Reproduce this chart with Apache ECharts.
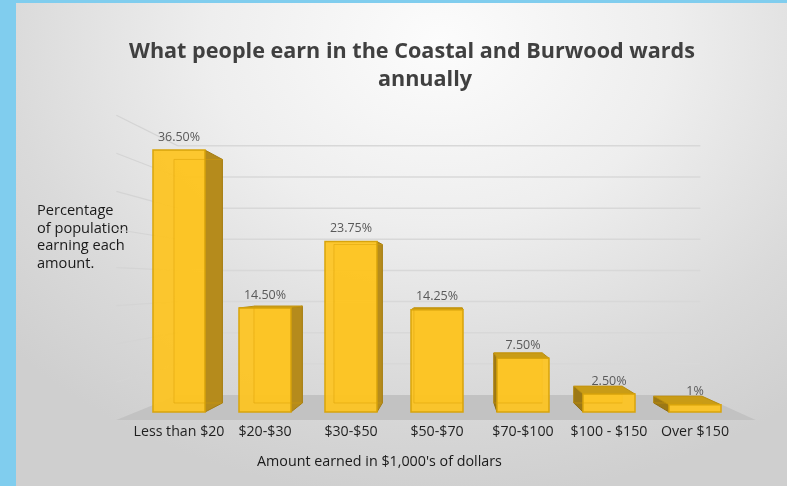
<!DOCTYPE html>
<html>
<head>
<meta charset="utf-8">
<script src="https://cdn.jsdelivr.net/npm/echarts@6/dist/echarts.min.js"></script>
<style>
html,body{margin:0;padding:0;width:787px;height:486px;overflow:hidden;background:#80CDEE;}
#bg{position:absolute;left:16px;top:3px;width:771px;height:483px;
  background:radial-gradient(ellipse 75% 95% at 55% 8%, #fcfcfc 0%, #eeeeee 40%, #dadada 75%, #cfcfcf 100%);}
#chart{position:absolute;left:0;top:0;width:787px;height:486px;}
</style>
</head>
<body>
<div id="bg"></div>
<div id="chart"></div>
<script>
// ---- data ----
const categories = ['Less than $20', '$20-$30', '$30-$50', '$50-$70', '$70-$100', '$100 - $150', 'Over $150'];
const values = [36.5, 14.5, 23.75, 14.25, 7.5, 2.5, 1];
const valueLabels = ['36.50%', '14.50%', '23.75%', '14.25%', '7.50%', '2.50%', '1%'];
const gridValues = [5, 10, 15, 20, 25, 30, 35, 40];
const titleLine1 = 'What people earn in the Coastal and Burwood wards';
const titleLine2 = 'annually';
const yAxisTitle = 'Percentage\nof population\nearning each\namount.';
const xAxisTitle = "Amount earned in $1,000's of dollars";

// ---- view / style ----
const FONT = 'Open Sans';
const VP = [453, 283];        // vanishing point
const Z_FLOOR_FRONT = -0.062;
const Z_FLOOR_BACK = 0.132;
const BAR_DEPTH = 0.07;
const BAR_RATIO = 0.605;

function P(x, y, z) { return [x + (VP[0] - x) * z, y + (VP[1] - y) * z]; }

function renderScene(params, api) {
  const cs = params.coordSys;
  const L = cs.x, R = cs.x + cs.width;
  const yb = api.coord([0, 0])[1];
  const children = [];
  gridValues.forEach(function (g) {
    const y = api.coord([0, g])[1];
    const a = P(L, y, Z_FLOOR_BACK), b = P(R, y, Z_FLOOR_BACK), f = P(L, y, Z_FLOOR_FRONT);
    children.push({ type: 'line', shape: { x1: a[0], y1: a[1], x2: b[0], y2: b[1] },
      style: { stroke: '#d8d8d8', lineWidth: 1.5 } });
    children.push({ type: 'line', shape: { x1: f[0], y1: f[1], x2: a[0], y2: a[1] },
      style: { stroke: '#d4d4d4', lineWidth: 1.2 } });
  });
  const p1 = P(L, yb, Z_FLOOR_FRONT), p2 = P(R, yb, Z_FLOOR_FRONT),
        p3 = P(R, yb, Z_FLOOR_BACK), p4 = P(L, yb, Z_FLOOR_BACK);
  children.push({ type: 'polygon', shape: { points: [p1, p2, p3, p4] },
    style: { fill: '#c2c2c2' } });
  return { type: 'group', children: children };
}

function renderBar(params, api) {
  const i = api.value(0), v = api.value(1);
  const top = api.coord([i, v]), base = api.coord([i, 0]);
  const bw = api.size([1, 0])[0] * BAR_RATIO;
  const x0 = top[0] - bw / 2, x1 = top[0] + bw / 2, yt = top[1], yb = base[1];
  const d = BAR_DEPTH;
  const ch = [];
  const edge = '#D8A40C';
  const b00 = P(x0, yt, d), b10 = P(x1, yt, d), b11 = P(x1, yb, d), b01 = P(x0, yb, d);
  ch.push({ type: 'polygon', shape: { points: [b00, b10, b11, b01] },
    style: { fill: 'rgba(250,190,20,0.5)', stroke: 'rgba(200,150,10,0.5)', lineWidth: 1 } });
  if (x1 < VP[0]) {
    ch.push({ type: 'polygon', shape: { points: [[x1, yt], P(x1, yt, d), P(x1, yb, d), [x1, yb]] },
      style: { fill: '#B58B1C', stroke: '#A47C12', lineWidth: 1 } });
  } else if (x0 > VP[0]) {
    ch.push({ type: 'polygon', shape: { points: [[x0, yt], P(x0, yt, d), P(x0, yb, d), [x0, yb]] },
      style: { fill: '#9C7816', stroke: '#8E6C10', lineWidth: 1 } });
  }
  if (yt > VP[1]) {
    ch.push({ type: 'polygon', shape: { points: [[x0, yt], [x1, yt], P(x1, yt, d), P(x0, yt, d)] },
      style: { fill: '#C99C16', stroke: '#B88D10', lineWidth: 1 } });
  }
  ch.push({ type: 'rect', shape: { x: x0, y: yt, width: x1 - x0, height: yb - yt },
    style: { fill: 'rgba(253,196,32,0.93)', stroke: edge, lineWidth: 1.5 } });
  ch.push({ type: 'polyline', shape: { points: [b01, b00, b10] },
    style: { fill: null, stroke: 'rgba(215,160,10,0.45)', lineWidth: 1 } });
  ch.push({ type: 'polyline', shape: { points: [b01, b11] },
    style: { fill: null, stroke: 'rgba(215,160,10,0.45)', lineWidth: 1 } });
  ch.push({ type: 'text', style: { text: valueLabels[i], x: top[0], y: yt - 13,
    textAlign: 'center', textVerticalAlign: 'middle', align: 'center', verticalAlign: 'middle',
    fill: '#595959', fontSize: 12.5, fontFamily: FONT } });
  return { type: 'group', children: ch };
}

const chart = echarts.init(document.getElementById('chart'), null, { renderer: 'canvas' });
chart.setOption({
  animation: false,
  backgroundColor: 'transparent',
  grid: { left: 136, right: 49, top: 125, bottom: 74 },
  xAxis: {
    type: 'category', data: categories,
    axisLine: { show: false }, axisTick: { show: false },
    axisLabel: { color: '#1f1f1f', fontSize: 14.2, fontFamily: FONT, margin: 13, interval: 0 }
  },
  yAxis: { type: 'value', min: 0, max: 40, interval: 5, show: false },
  graphic: [
    { type: 'text', x: 412, y: 52, style: { text: titleLine1, textAlign: 'center', textVerticalAlign: 'middle',
      align: 'center', verticalAlign: 'middle', fill: '#404040', fontSize: 21.6, fontWeight: 'bold', fontFamily: FONT } },
    { type: 'text', x: 425, y: 80, style: { text: titleLine2, textAlign: 'center', textVerticalAlign: 'middle',
      align: 'center', verticalAlign: 'middle', fill: '#404040', fontSize: 21.6, fontWeight: 'bold', fontFamily: FONT } },
    { type: 'text', x: 37, y: 202, style: { text: yAxisTitle, textAlign: 'left', textVerticalAlign: 'top',
      align: 'left', verticalAlign: 'top', fill: '#1a1a1a', fontSize: 14.6, lineHeight: 17.7, fontFamily: FONT } },
    { type: 'text', x: 257, y: 462, style: { text: xAxisTitle, textAlign: 'left', textVerticalAlign: 'middle',
      align: 'left', verticalAlign: 'middle', fill: '#1a1a1a', fontSize: 14.3, fontFamily: FONT } }
  ],
  series: [
    { type: 'custom', name: 'scene', renderItem: renderScene, data: [[0, 0]], clip: false, silent: true, z: 1 },
    { type: 'custom', name: 'bars', renderItem: renderBar, clip: false, z: 2,
      encode: { x: 0, y: 1 }, data: values.map(function (v, i) { return [i, v]; }) }
  ]
});
</script>
</body>
</html>
